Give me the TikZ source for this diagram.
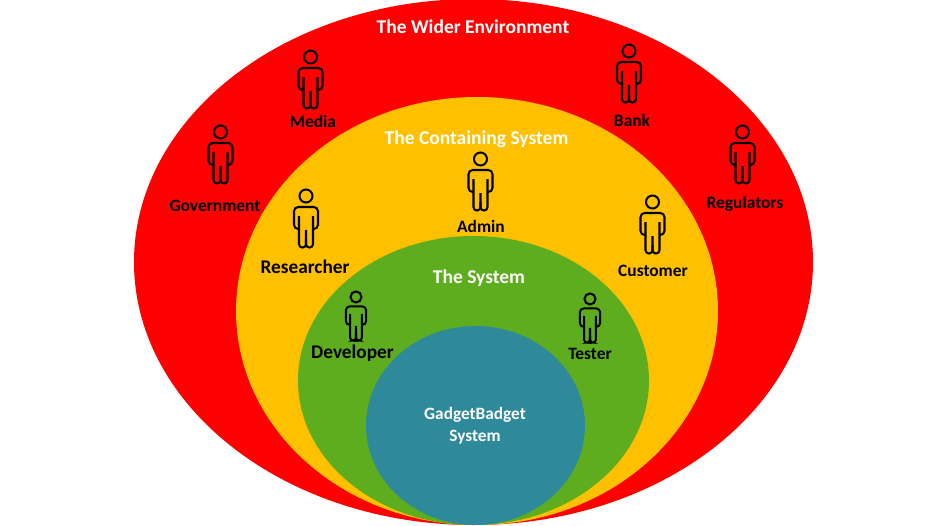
\documentclass[tikz,border=0pt]{standalone}
\usepackage{fontspec}
\setmainfont{Carlito}
\usepackage{xcolor}
\definecolor{envred}{HTML}{FF0000}
\definecolor{contyellow}{HTML}{FFC000}
\definecolor{sysgreen}{HTML}{5DAD1E}
\definecolor{coreblue}{HTML}{2E8A9A}
\tikzset{
  person/.pic={
    \draw[line width=1.15pt] (0,7) circle (6.5);
    \draw[line width=1.15pt,rounded corners=2.4pt] (-7,40) -- (-12,40) -- (-12,18) -- (12,18) -- (12,40) -- (7,40);
    \draw[line width=1.15pt,rounded corners=1.9pt] (-7,27) -- (-7,58.5) -- (0,58.5) -- (0,41);
    \draw[line width=1.15pt,rounded corners=1.9pt] (7,27) -- (7,58.5) -- (0,58.5) -- (0,50);
  },
  role/.style={font=\bfseries\fontsize{9.9}{11}\selectfont,text=black,inner sep=0pt},
  bigrole/.style={role,font=\bfseries\fontsize{11}{13}\selectfont},
  title/.style={font=\bfseries\fontsize{11.1}{13}\selectfont,text=white,inner sep=0pt}
}
\begin{document}
\begin{tikzpicture}[x=0.02cm,y=-0.02cm]
  \useasboundingbox (0,0) rectangle (931,525);

  % Ellipses
  \fill[envred] (473.5,262) ellipse (339.5 and 263);
  \fill[contyellow] (477,311) ellipse (241 and 214);
  \fill[sysgreen] (473.5,380.5) ellipse (175.5 and 144.5);
  \fill[coreblue] (475.5,425.5) ellipse (109.5 and 99.5);

  % Titles
  \node[title] (wider) at (473,27) {The Wider Environment};
  \node[title] (containing) at (476.5,139.5) {The Containing System};
  \node[title] (system) at (479,278) {The System};
  \node[title,font=\bfseries\fontsize{9.85}{12.4}\selectfont,align=center] (core) at (475,426) {GadgetBadget\\System};

  % People
  \pic at (310.5,50) {person};
  \pic at (629,44) {person};
  \pic at (220.5,125) {person};
  \pic at (742.5,125) {person};
  \pic at (480.5,152) {person};
  \pic at (306,189) {person};
  \pic at (652.5,195) {person};
  \pic[scale=0.85] at (356,291) {person};
  \pic[scale=0.85] at (590,293) {person};

  % Roles
  \node[role] (media) at (313,121) {Media};
  \node[role] (bank) at (632,120.5) {Bank};
  \node[role] (government) at (215,206) {Government};
  \node[role] (regulators) at (745,203.5) {Regulators};
  \node[role] (admin) at (481,226) {Admin};
  \node[bigrole] (researcher) at (305,266.5) {Researcher};
  \node[role] (customer) at (653,271) {Customer};
  \node[bigrole] (developer) at (352.5,353.5) {Developer};
  \node[role] (tester) at (590,354) {Tester};
\end{tikzpicture}
\end{document}
